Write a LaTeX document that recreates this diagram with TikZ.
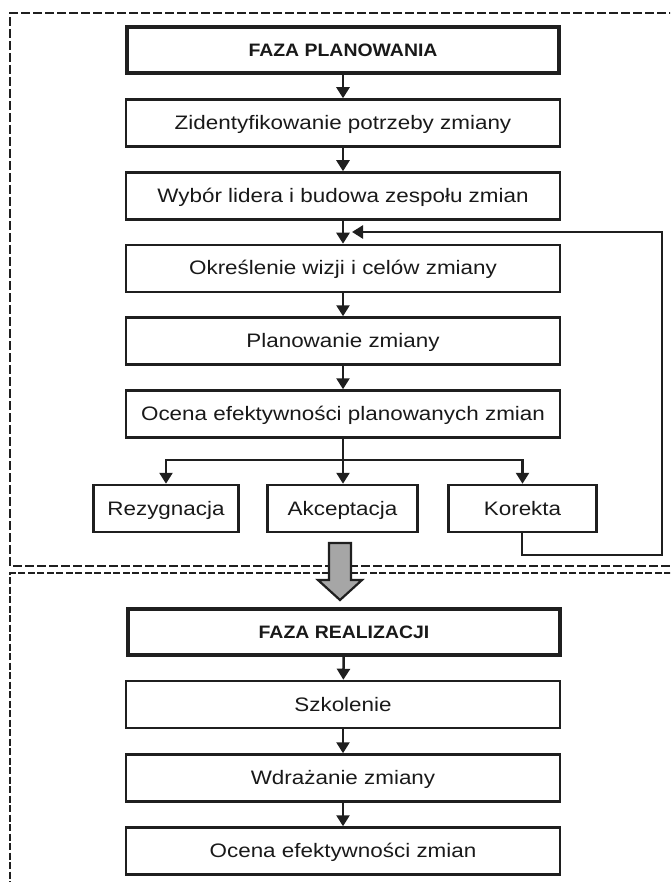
\documentclass[tikz,border=0pt]{standalone}
\usepackage{fontspec}
\setmainfont{Liberation Sans}[FakeStretch=1.15]
\newfontfamily\headfont{Liberation Sans}[FakeStretch=1.08]
\usetikzlibrary{arrows.meta}
\begin{document}
\begin{tikzpicture}[x=1pt,y=-1pt,
  box/.style={draw=black!88, line width=2.5pt, rectangle, minimum width=434pt, minimum height=47pt,
    inner sep=0pt, text height=14pt, text depth=1pt,
    font=\fontsize{19.5}{22}\selectfont, text=black!90},
  smallbox/.style={box, minimum width=145pt},
  headbox/.style={box, line width=4pt, minimum width=432pt, minimum height=46pt,
    text height=13pt, text depth=0pt,
    font=\headfont\fontsize{18}{20}\selectfont\bfseries},
  arr/.style={line width=2.5pt, draw=black!88, -{Triangle[length=11pt,width=13pt]}},
  frame/.style={line width=1.8pt, draw=black!88, dash pattern=on 9pt off 3pt},
  frametwo/.style={line width=1.8pt, draw=black!88, dash pattern=on 7pt off 2.5pt}
]
\useasboundingbox (0,0) rectangle (670,882);
\clip (0,0) rectangle (670,882);

% phase frames
\draw[frame] (690,13) -- (10,13) -- (10,566) -- (690,566);
\draw[frametwo] (690,573) -- (10,573) -- (10,900);

% planning phase
\node[headbox] (plan) at (343,50) {FAZA PLANOWANIA};
\node[box] (ident) at (343,123) {Zidentyfikowanie potrzeby zmiany};
\node[box] (lider) at (343,196) {Wybór lidera i budowa zespołu zmian};
\node[box] (wizja) at (343,268.5) {Określenie wizji i celów zmiany};
\node[box] (plano) at (343,341) {Planowanie zmiany};
\node[box] (ocena) at (343,414) {Ocena efektywności planowanych zmian};
\node[smallbox] (rez) at (166,508.5) {Rezygnacja};
\node[smallbox, minimum width=150pt] (akc) at (342.5,508.5) {Akceptacja};
\node[smallbox, minimum width=148pt] (kor) at (522.5,508.5) {Korekta};

\draw[arr] (plan) -- (ident);
\draw[arr] (ident) -- (lider);
\draw[arr] (lider) -- (wizja);
\draw[arr] (wizja) -- (plano);
\draw[arr] (plano) -- (ocena);

\coordinate (split) at (343,460);
\draw[line width=2.5pt, draw=black!88] (ocena.south) -- (split);
\draw[arr] (split) -- (akc.north -| split);
\draw[arr] (split) -| (rez.north);
\draw[arr] (split) -| (kor.north);

% correction loop back to the goals step
\coordinate (loopdown) at (522,555);
\coordinate (loopright) at (662,555);
\coordinate (loopup) at (662,232);
\coordinate (loopend) at (352,232);
\draw[arr] (kor.south -| loopdown) -- (loopdown) -- (loopright) -- (loopup) -- (loopend);

% transition arrow between phases
\draw[line width=2.2pt, draw=black!88, fill=black!35, line join=miter]
  (329,543) -- (351,543) -- (351,580) -- (362,580) -- (340,600) -- (318,580) -- (329,580) -- cycle;

% realisation phase
\node[headbox] (real) at (344,632) {FAZA REALIZACJI};
\node[box] (szk) at (343,704.5) {Szkolenie};
\node[box] (wdr) at (343,778) {Wdrażanie zmiany};
\node[box] (oef) at (343,851) {Ocena efektywności zmian};

\draw[arr] (real) -- (szk);
\draw[arr] (szk) -- (wdr);
\draw[arr] (wdr) -- (oef);
\end{tikzpicture}
\end{document}
